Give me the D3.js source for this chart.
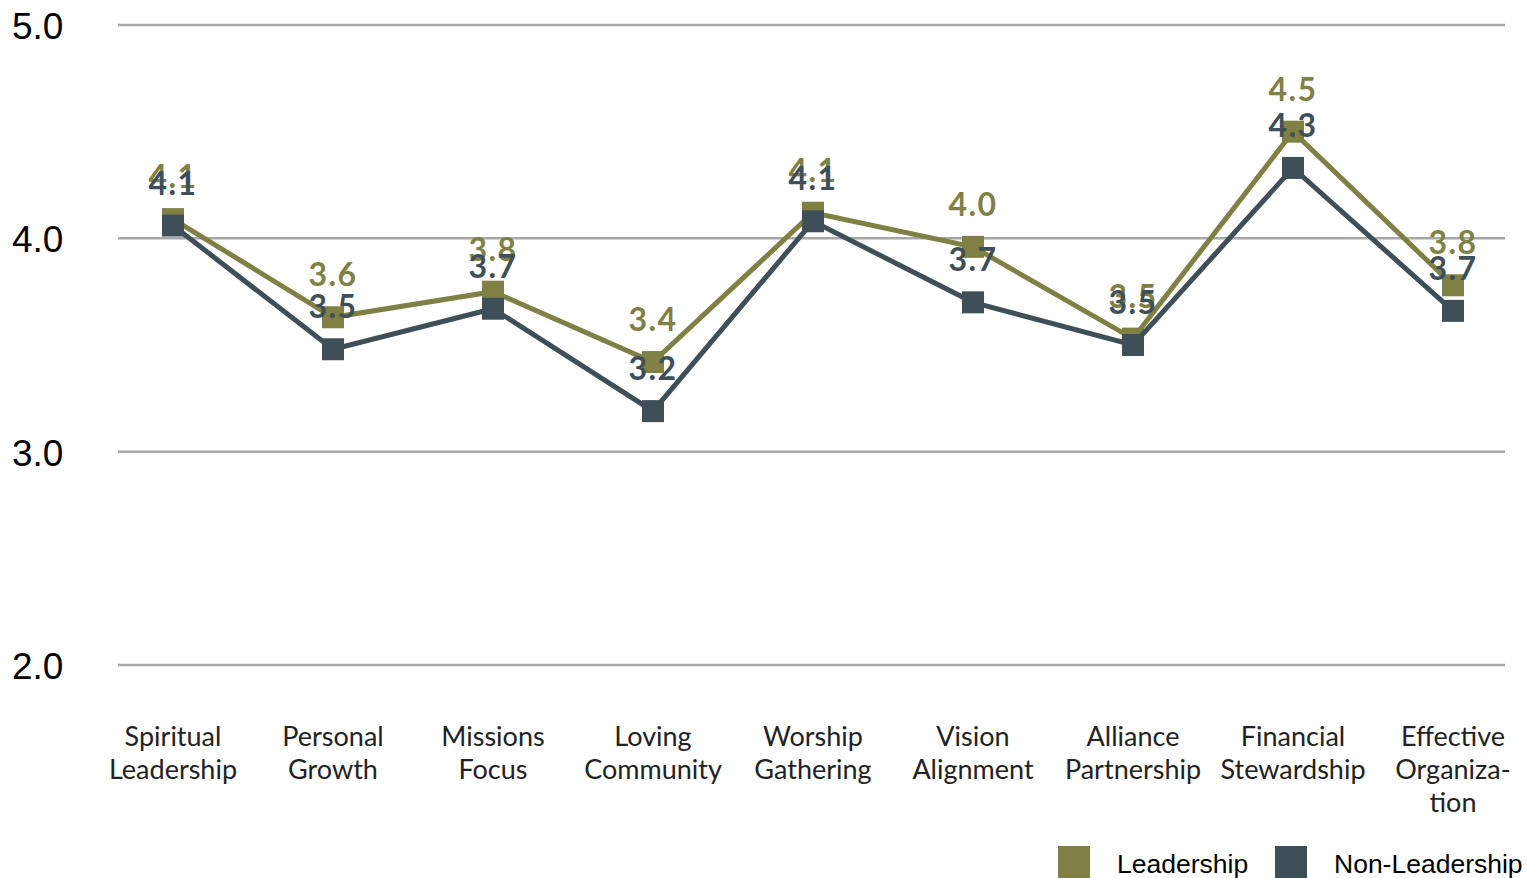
<!DOCTYPE html>
<html><head><meta charset="utf-8">
<script src="https://cdn.jsdelivr.net/npm/d3@7"></script>
<style>
html,body{margin:0;padding:0;background:#fff;}
svg{display:block;}
</style></head>
<body>
<svg id="chart" width="1527" height="878"></svg>
<script>
const categories = [
  ["Spiritual","Leadership"],
  ["Personal","Growth"],
  ["Missions","Focus"],
  ["Loving","Community"],
  ["Worship","Gathering"],
  ["Vision","Alignment"],
  ["Alliance","Partnership"],
  ["Financial","Stewardship"],
  ["Effective","Organiza-","tion"]
];
const leadership    = [4.09, 3.63, 3.75, 3.42, 4.12, 3.96, 3.53, 4.50, 3.78];
const nonLeadership = [4.06, 3.48, 3.67, 3.19, 4.08, 3.70, 3.50, 4.33, 3.66];
const yTicks = [2.0, 3.0, 4.0, 5.0];
const seriesNames = ["Leadership", "Non-Leadership"];
const seriesColors = ["#7e8044", "#3f4f58"];

const svg = d3.select("#chart");
const x = d3.scalePoint().domain(d3.range(categories.length)).range([173, 1453]);
const y = d3.scaleLinear().domain([2, 5]).range([665, 25]);

// grid
svg.append("g").selectAll("line").data(yTicks).join("line")
  .attr("x1", 118).attr("x2", 1505)
  .attr("y1", d => y(d)).attr("y2", d => y(d))
  .attr("stroke", "#a8a8a8").attr("stroke-width", 2.5);

// y labels
svg.append("g").selectAll("text").data(yTicks).join("text")
  .attr("x", 12).attr("y", d => y(d) + 14)
  .attr("font-family", "Liberation Sans, Arial, sans-serif")
  .attr("font-size", 37).attr("fill", "#000")
  .text(d => d.toFixed(1));

// category labels
const cat = svg.append("g").selectAll("text").data(categories).join("text")
  .attr("x", (d, i) => x(i)).attr("y", 746)
  .attr("text-anchor", "middle")
  .attr("font-family", "Lato, sans-serif")
  .attr("font-size", 27).attr("fill", "#222");
cat.selectAll("tspan").data(d => d).join("tspan")
  .attr("x", function(){ return d3.select(this.parentNode).attr("x"); })
  .attr("dy", (d, j) => j === 0 ? 0 : 33)
  .text(d => d);

const line = d3.line().x((d, i) => x(i)).y(d => y(d));
const allSeries = [leadership, nonLeadership];

allSeries.forEach((vals, s) => {
  const g = svg.append("g");
  g.append("path").attr("d", line(vals)).attr("fill", "none")
    .attr("stroke", seriesColors[s]).attr("stroke-width", 5);
  g.selectAll("rect").data(vals).join("rect")
    .attr("x", (d, i) => x(i) - 11).attr("y", d => y(d) - 11)
    .attr("width", 22).attr("height", 22).attr("fill", seriesColors[s]);
  g.selectAll("text").data(vals).join("text")
    .attr("x", (d, i) => x(i)).attr("y", d => y(d) - 31)
    .attr("text-anchor", "middle")
    .attr("font-family", "Lato, sans-serif").attr("font-weight", 700)
    .attr("font-size", 32).attr("letter-spacing", 1.5)
    .attr("fill", seriesColors[s])
    .text(d => d.toFixed(1));
});

// legend
const legendX = [1058, 1275];
const leg = svg.append("g").selectAll("g").data(seriesNames).join("g")
  .attr("transform", (d, i) => `translate(${legendX[i]},846)`);
leg.append("rect").attr("width", 32).attr("height", 32)
  .attr("fill", (d, i) => seriesColors[i]);
leg.append("text").attr("x", 59).attr("y", 27)
  .attr("font-family", "Liberation Sans, Arial, sans-serif")
  .attr("font-size", 26.5).attr("fill", "#000")
  .text(d => d);
</script>
</body></html>
